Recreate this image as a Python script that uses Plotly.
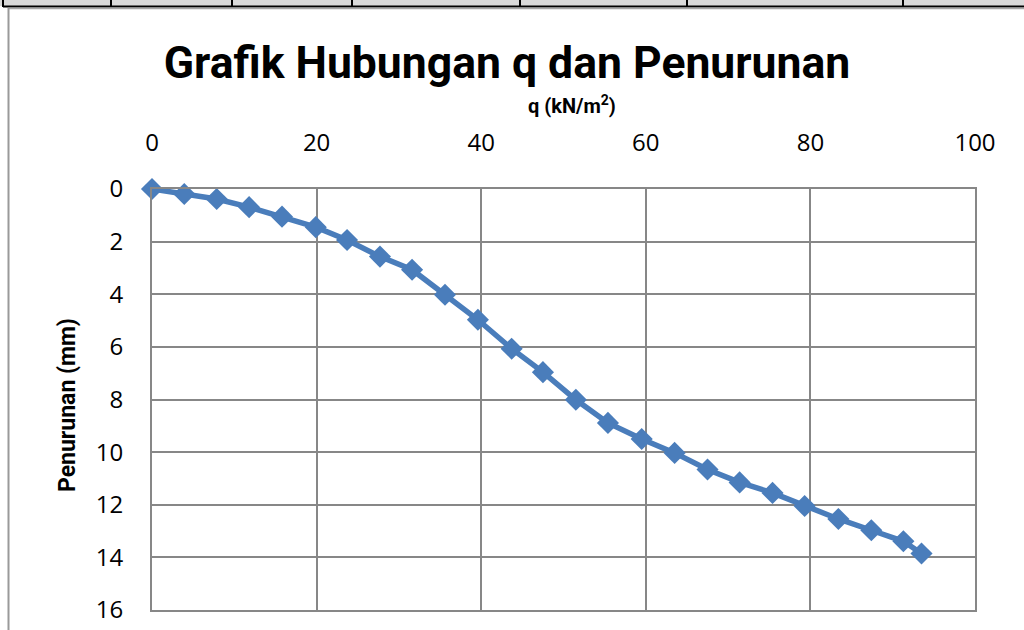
import plotly.graph_objects as go

# Load (kN/m2) and settlement (mm) readings
q_kn_m2 = [0, 3.92, 7.86, 11.8, 15.8, 19.9, 23.7, 27.7, 31.6, 35.6, 39.6,
           43.7, 47.5, 51.5, 55.4, 59.5, 63.5, 67.5, 71.4, 75.4, 79.3,
           83.4, 87.4, 91.3, 93.5]
penurunan_mm = [0, 0.19, 0.38, 0.69, 1.05, 1.45, 1.94, 2.57, 3.07, 4.02, 4.97,
                6.07, 6.96, 8.01, 8.89, 9.50, 10.03, 10.66, 11.15, 11.55, 12.05,
                12.54, 12.97, 13.39, 13.85]

x_ticks = [0, 20, 40, 60, 80, 100]
y_ticks = [0, 2, 4, 6, 8, 10, 12, 14, 16]

W, H = 1024, 630
L, R, T, B = 152, 49, 189, 20
PW, PH = W - L - R, H - T - B

def px(x):
    return (x - L) / PW

def py(y):
    return (H - B - y) / PH

NARROW = "Roboto, sans-serif"
TICKFONT = dict(family="Open Sans, sans-serif", size=24, color="#000000")
GRID = "#878787"
BLUE = "#4a7dbb"

fig = go.Figure(
    go.Scatter(
        x=q_kn_m2, y=penurunan_mm, mode="lines+markers",
        line=dict(color=BLUE, width=5.5),
        marker=dict(symbol="diamond", size=17, color=BLUE),
        cliponaxis=False, showlegend=False,
    )
)

fig.update_xaxes(
    side="top", range=[0, 100], tickvals=x_ticks, ticks="",
    showgrid=True, gridcolor=GRID, gridwidth=2,
    showline=True, linecolor=GRID, linewidth=2, mirror=True,
    zeroline=False, tickfont=TICKFONT, ticklabelstandoff=26,
)
fig.update_yaxes(
    range=[16, 0], tickvals=y_ticks, ticks="",
    showgrid=True, gridcolor=GRID, gridwidth=2,
    showline=True, linecolor=GRID, linewidth=2, mirror=True,
    zeroline=False, tickfont=TICKFONT, ticklabelstandoff=22,
)

shapes = []
# document table strip along the top edge
shapes.append(dict(type="rect", xref="paper", yref="paper",
                   x0=px(0), x1=px(W), y0=py(0), y1=py(6),
                   fillcolor="#d9d9d9", line=dict(width=0), layer="below"))
shapes.append(dict(type="line", xref="paper", yref="paper",
                   x0=px(3), x1=px(W), y0=py(6.5), y1=py(6.5),
                   line=dict(color="#000000", width=2)))
shapes.append(dict(type="line", xref="paper", yref="paper",
                   x0=px(8), x1=px(W), y0=py(8.5), y1=py(8.5),
                   line=dict(color="#a6a6a6", width=1.5)))
for cx in [3, 111, 232, 352, 520, 687, 903]:
    shapes.append(dict(type="line", xref="paper", yref="paper",
                       x0=px(cx), x1=px(cx), y0=py(0), y1=py(7),
                       line=dict(color="#000000", width=2)))
# chart frame edge on the left
shapes.append(dict(type="line", xref="paper", yref="paper",
                   x0=px(8.5), x1=px(8.5), y0=py(8), y1=py(H),
                   line=dict(color="#9a9a9a", width=2)))

annotations = [
    dict(text="<b>q (kN/m<sup>2</sup>)</b>", xref="paper", yref="paper",
         x=px(572), y=py(105), showarrow=False, xanchor="center", yanchor="middle",
         font=dict(family=NARROW, size=20, color="#000000")),
    dict(text="<b>Penurunan (mm)</b>", xref="paper", yref="paper",
         x=px(67), y=py(405), showarrow=False, textangle=-90,
         xanchor="center", yanchor="middle",
         font=dict(family=NARROW, size=23, color="#000000")),
]

fig.update_layout(
    width=W, height=H,
    margin=dict(l=L, r=R, t=T, b=B, autoexpand=False),
    paper_bgcolor="#ffffff", plot_bgcolor="#ffffff",
    title=dict(text="<b>Grafik Hubungan q dan Penurunan</b>",
               x=px(507), xref="paper", xanchor="center",
               y=1 - 62 / H, yref="container", yanchor="middle",
               font=dict(family=NARROW, size=44.5, color="#000000")),
    shapes=shapes, annotations=annotations,
)

fig.write_html("out.html")
